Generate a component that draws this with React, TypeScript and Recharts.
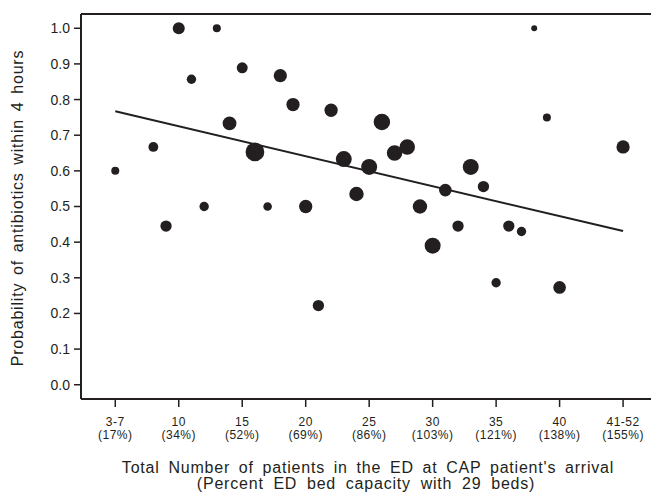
import React from 'react';
import {
  ScatterChart, Scatter, XAxis, YAxis, ZAxis, ReferenceLine
} from 'recharts';

// x = number of patients in the ED, y = probability of antibiotics within 4 hours
const patients = [5, 8, 9, 10, 11, 12, 13, 14, 15, 16, 17, 18, 19, 20, 21, 22, 23, 24, 25, 26,
  27, 28, 29, 30, 31, 32, 33, 34, 35, 36, 37, 38, 39, 40, 45];
const probability = [0.60, 0.667, 0.445, 1.0, 0.857, 0.5, 1.0, 0.733, 0.889, 0.653, 0.5, 0.867,
  0.786, 0.5, 0.222, 0.77, 0.633, 0.535, 0.611, 0.737, 0.65, 0.667, 0.5, 0.39, 0.546, 0.445,
  0.611, 0.556, 0.286, 0.445, 0.43, 1.0, 0.75, 0.273, 0.667];
// relative number of CAP patients behind each point (bubble size)
const caseCount = [4, 6, 8, 9, 5.5, 5.5, 4, 12, 7.5, 22, 4.6, 11, 11, 11, 8, 11, 16, 13, 16, 17,
  15, 15, 13, 16, 10, 8, 16, 8, 5.5, 8, 5.5, 2.2, 4, 10, 11];

// fitted regression line end points
const fitX = [5, 45];
const fitY = [0.767, 0.431];

const xTicks = [5, 10, 15, 20, 25, 30, 35, 40, 45];
const xTickCounts = ['3-7', '10', '15', '20', '25', '30', '35', '40', '41-52'];
const xTickPercents = ['(17%)', '(34%)', '(52%)', '(69%)', '(86%)', '(103%)', '(121%)', '(138%)', '(155%)'];
const yTicks = [0, 0.1, 0.2, 0.3, 0.4, 0.5, 0.6, 0.7, 0.8, 0.9, 1.0];

const INK = '#231f20';
const FONT = '"Liberation Sans", Arial, sans-serif';

const points = patients.map((p, i) => ({ x: p, y: probability[i], z: caseCount[i] }));

const XTick = (props: any) => {
  const { x, y, payload } = props;
  const i = xTicks.indexOf(payload.value);
  return (
    <text x={x} y={y} textAnchor="middle" fontSize={12} fill={INK} fontFamily={FONT} letterSpacing={0.5}>
      <tspan x={x} dy={19}>{xTickCounts[i]}</tspan>
      <tspan x={x} dy={13}>{xTickPercents[i]}</tspan>
    </text>
  );
};

const XTitle = () => (
  <g fontSize={16} fill={INK} fontFamily={FONT} letterSpacing={0.8} textAnchor="middle">
    <text x={368} y={473} wordSpacing={3.5}>Total Number of patients in the ED at CAP patient's arrival</text>
    <text x={366} y={489} wordSpacing={4.5}>(Percent ED bed capacity with 29 beds)</text>
  </g>
);

const YTitle = () => (
  <text x={23} y={208} transform="rotate(-90 23 208)" textAnchor="middle" fontSize={16}
    fill={INK} fontFamily={FONT} letterSpacing={0.8} wordSpacing={2.5}>
    Probability of antibiotics within 4 hours
  </text>
);

export default function App() {
  return (
    <div style={{ position: 'absolute', left: 0, top: 0, background: '#fff' }}>
      <ScatterChart width={651} height={493} margin={{ top: 14, right: 0, bottom: 0, left: 0 }}>
        <XAxis
          type="number"
          dataKey="x"
          domain={[2.3, 47.2]}
          ticks={xTicks}
          interval={0}
          height={94}
          tickSize={8}
          tickMargin={0}
          axisLine={{ stroke: INK, strokeWidth: 2 }}
          tickLine={{ stroke: INK, strokeWidth: 1.5 }}
          tick={<XTick />}
          label={<XTitle />}
        />
        <YAxis
          type="number"
          dataKey="y"
          domain={[-0.04, 1.04]}
          ticks={yTicks}
          interval={0}
          width={81}
          tickSize={7}
          tickMargin={4}
          axisLine={{ stroke: INK, strokeWidth: 2 }}
          tickLine={{ stroke: INK, strokeWidth: 1.5 }}
          tick={{ fill: INK, fontSize: 14, fontFamily: FONT }}
          tickFormatter={(v: number) => v.toFixed(1)}
          label={<YTitle />}
        />
        <ZAxis type="number" dataKey="z" domain={[0, 25]} range={[0, 314]} />
        <ReferenceLine y={1.04} stroke={INK} strokeWidth={2} />
        <ReferenceLine
          segment={[{ x: fitX[0], y: fitY[0] }, { x: fitX[1], y: fitY[1] }]}
          stroke={INK}
          strokeWidth={2}
        />
        <Scatter data={points} fill={INK} isAnimationActive={false} />
      </ScatterChart>
    </div>
  );
}
